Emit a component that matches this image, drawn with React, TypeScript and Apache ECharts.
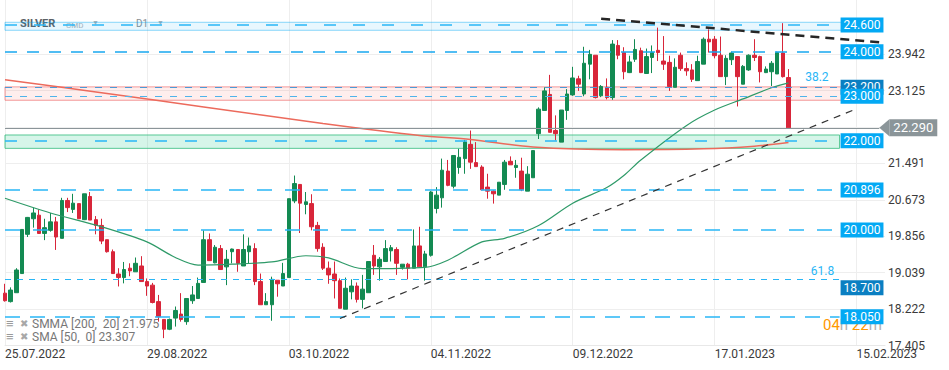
import { useEffect, useRef } from 'react';
import * as echarts from 'echarts';

// ---------- DATA ----------
const tickLabels = ['25.07.2022', '29.08.2022', '03.10.2022', '04.11.2022', '09.12.2022', '17.01.2023', '15.02.2023'];
const tickStep = 25;
const slotCount = 156;

// [open, close, low, high]
const ohlc: number[][] = [
  [18.58, 18.41, 18.39, 18.79], [18.39, 18.65, 18.37, 18.71], [18.59, 19.10, 18.59, 19.14], [19.02, 20.01, 19.02, 20.01],
  [19.90, 20.28, 19.84, 20.29], [20.25, 20.38, 20.05, 20.50], [20.33, 19.92, 19.92, 20.46], [19.92, 20.05, 19.77, 20.25],
  [19.99, 20.18, 19.96, 20.38], [20.18, 19.84, 19.55, 20.29], [19.81, 20.66, 19.81, 20.72], [20.66, 20.50, 20.40, 20.72],
  [20.46, 20.60, 20.38, 20.81], [20.59, 20.25, 20.25, 20.59], [20.23, 20.81, 20.22, 20.81], [20.75, 20.22, 20.22, 20.85],
  [20.23, 20.10, 19.90, 20.31], [20.10, 19.75, 19.68, 20.25], [19.78, 19.51, 19.49, 19.78], [19.51, 19.02, 19.01, 19.56],
  [19.01, 18.93, 18.73, 19.14], [18.93, 19.11, 18.80, 19.28], [19.14, 19.08, 18.96, 19.25], [19.06, 19.25, 19.06, 19.38],
  [19.19, 18.84, 18.84, 19.41], [18.84, 18.74, 18.52, 18.91], [18.76, 18.37, 18.35, 18.81], [18.39, 18.05, 17.94, 18.54],
  [17.99, 17.77, 17.57, 17.99], [17.77, 17.99, 17.75, 18.01], [18.02, 18.19, 17.83, 18.28], [18.11, 17.99, 17.94, 18.58],
  [17.94, 18.46, 17.87, 18.46], [18.41, 18.54, 18.34, 18.74], [18.46, 18.80, 18.46, 18.93], [18.82, 19.78, 18.82, 19.99],
  [19.78, 19.31, 19.31, 19.92], [19.26, 19.61, 19.25, 19.66], [19.58, 19.11, 19.10, 19.66], [19.17, 19.34, 18.76, 19.55],
  [19.51, 19.57, 19.25, 19.58], [19.56, 19.25, 19.06, 19.56], [19.19, 19.56, 19.19, 19.90], [19.51, 19.64, 19.25, 19.83],
  [19.58, 18.84, 18.76, 19.70], [18.84, 18.32, 18.32, 19.02], [18.32, 18.39, 18.32, 18.58], [18.32, 18.89, 17.96, 18.95],
  [18.87, 18.79, 18.50, 18.87], [18.74, 19.02, 18.74, 19.26], [18.93, 20.70, 18.93, 20.70], [20.65, 21.04, 20.60, 21.22],
  [21.02, 20.60, 19.93, 21.02], [20.57, 20.63, 20.35, 20.85], [20.59, 20.07, 19.99, 20.80], [20.10, 19.58, 19.51, 20.18],
  [19.61, 19.14, 19.10, 19.70], [19.14, 18.99, 18.79, 19.29], [19.01, 18.86, 18.46, 19.29], [18.86, 18.24, 18.24, 18.91],
  [18.22, 18.69, 18.22, 18.93], [18.61, 18.74, 18.44, 18.89], [18.74, 18.44, 18.37, 18.82], [18.44, 18.67, 18.24, 18.99],
  [18.59, 19.29, 18.59, 19.29], [19.43, 19.19, 18.99, 19.66], [19.17, 19.34, 18.86, 19.39], [19.29, 19.58, 19.29, 19.77],
  [19.53, 19.60, 19.29, 19.66], [19.56, 19.25, 18.99, 19.61], [19.16, 19.23, 19.11, 19.23], [19.23, 19.14, 18.89, 19.26],
  [19.14, 19.64, 19.14, 20.01], [19.64, 19.17, 19.17, 20.07], [19.17, 19.46, 18.86, 19.53], [19.43, 20.85, 19.40, 20.87],
  [20.48, 20.78, 20.37, 20.96], [20.72, 21.34, 20.50, 21.60], [21.32, 21.00, 20.98, 21.57], [20.98, 21.67, 20.93, 21.67],
  [21.40, 21.63, 21.26, 21.82], [21.60, 21.97, 21.26, 22.02], [21.92, 21.52, 21.37, 22.23], [21.51, 21.42, 21.42, 21.97],
  [21.41, 20.90, 20.89, 21.45], [20.96, 20.87, 20.70, 21.26], [20.87, 20.81, 20.59, 20.89], [20.78, 21.07, 20.78, 21.07],
  [21.02, 21.52, 20.90, 21.57], [21.54, 21.46, 21.46, 21.65], [21.40, 21.45, 21.17, 21.57], [21.32, 20.90, 20.87, 21.62],
  [20.87, 21.25, 20.87, 21.43], [21.17, 21.78, 21.17, 21.78], [22.16, 22.71, 22.04, 22.75], [22.68, 23.12, 22.68, 23.20],
  [23.04, 22.19, 22.19, 23.48], [22.23, 22.16, 22.01, 22.57], [21.97, 22.69, 21.97, 22.69], [22.68, 23.05, 22.47, 23.16],
  [23.03, 23.41, 23.01, 23.66], [23.39, 23.27, 23.12, 23.46], [23.05, 23.74, 23.00, 24.11], [23.72, 23.94, 23.38, 24.04],
  [23.92, 22.97, 22.95, 23.92], [23.01, 23.22, 22.98, 23.25], [23.20, 22.97, 22.93, 23.40], [22.97, 24.17, 22.92, 24.26],
  [24.14, 23.92, 23.83, 24.26], [23.98, 23.55, 23.38, 24.10], [23.53, 23.77, 23.52, 23.91], [23.83, 24.05, 23.77, 24.28],
  [24.02, 23.53, 23.52, 24.09], [23.51, 23.89, 23.50, 24.07], [23.87, 23.98, 23.52, 24.14], [24.03, 23.98, 23.79, 24.54],
  [23.79, 23.72, 23.59, 24.35], [23.76, 23.22, 23.12, 23.91], [23.20, 23.65, 23.20, 23.85], [23.92, 23.62, 23.57, 23.98],
  [23.62, 23.57, 23.46, 23.76], [23.59, 23.38, 23.32, 23.72], [23.35, 23.78, 23.35, 23.91], [23.72, 24.28, 23.72, 24.32],
  [24.28, 24.22, 23.98, 24.50], [24.28, 23.91, 23.85, 24.35], [23.92, 23.44, 23.44, 24.34], [23.44, 23.85, 23.25, 23.92],
  [23.82, 23.97, 23.70, 24.00], [23.89, 23.44, 22.77, 23.89], [23.27, 23.67, 23.27, 23.70], [23.59, 23.92, 23.57, 23.94],
  [23.92, 23.87, 23.79, 24.28], [23.89, 23.55, 23.31, 23.91], [23.53, 23.61, 23.52, 23.67], [23.55, 23.74, 23.23, 23.79],
  [23.50, 23.98, 23.50, 24.00], [23.97, 23.44, 23.42, 24.64], [23.42, 22.29, 22.27, 23.61],
];

// indicator lines: [bar index, value]
const smmaPoints: number[][] = [
  [0, 23.37], [17, 23.08], [35, 22.76], [56, 22.39], [73, 22.12], [82, 22.03], [93, 21.86],
  [109, 21.80], [123, 21.82], [132, 21.88], [138, 21.96],
];
const smaPoints: number[][] = [
  [0, 20.71], [8, 20.38], [17, 20.07], [25, 19.73], [30, 19.38], [34, 19.21], [40, 19.23], [47, 19.28],
  [53, 19.42], [57, 19.37], [63, 19.13], [74, 19.16], [78, 19.32], [84, 19.73], [88, 19.81], [94, 20.10],
  [100, 20.60], [106, 20.95], [109, 21.22], [112, 21.57], [120, 22.34], [125, 22.69], [130, 22.94], [135, 23.19], [138, 23.30],
];

const yTicks = [17.405, 18.222, 19.039, 19.856, 20.673, 21.491, 22.308, 23.125, 23.942];
const yLabelTicks = [17.405, 18.222, 19.039, 19.856, 20.673, 21.491, 23.125, 23.942];
const yMin = 17.405;
const yMax = 25.16;

const lastPrice = 22.29;
const lastPriceText = '22.290';
const priceLineEnd = 154;

const levelValues = [24.6, 24.0, 23.2, 23.0, 22.0, 20.896, 20.0, 18.9, 18.7, 18.05];
const levelTexts = ['24.600', '24.000', '23.200', '23.000', '22.000', '20.896', '20.000', '', '18.700', '18.050'];
const levelEnd = 147;

const bandRanges = [[24.48, 24.66], [22.91, 23.21], [21.83, 22.13]];
const bandEnds = [149, 148, 147];

const downTrend = [[105, 24.74], [154, 24.21]];
const upTrend = [[59, 18.01], [150, 22.72]];

const fibTexts = ['38.2', '61.8'];
const fibAnchors = [[143, 23.43], [144, 19.08]];

const legendNames = ['SMMA', 'SMA'];
const legendParams = ['[200,  20]', '[50,  0]'];
const legendValues = ['21.975', '23.307'];
const countdown = ['04', '22'];

// ---------- STYLES ----------
const FONT = 'Roboto, "Noto Sans", sans-serif';
const UP = '#138a52';
const DOWN = '#d8263a';
const BOX = '#03a9f4';
const BOX_DARK = '#0a7fc2';
const levelStyles = [
  { color: '#29b6f6', dash: [12, 17], width: 1.5, box: BOX },
  { color: '#18a8ef', dash: [12, 10], width: 1.5, box: BOX },
  { color: '#4d9ad6', dash: [7, 8], width: 1.2, box: BOX_DARK },
  { color: '#4fb3ea', dash: [7, 8], width: 1.2, box: BOX },
  { color: '#29b6f6', dash: [12, 18], width: 1.5, box: BOX },
  { color: '#29b6f6', dash: [15, 13], width: 1.5, box: BOX },
  { color: '#29b6f6', dash: [15, 13], width: 1.5, box: BOX },
  { color: '#29b6f6', dash: [6, 6], width: 1.2, box: BOX },
  { color: 'rgba(0,0,0,0)', dash: [6, 6], width: 1, box: BOX_DARK },
  { color: '#29b6f6', dash: [15, 10], width: 1.5, box: BOX },
];
const bandStyles = [
  { fill: 'rgba(3,169,244,0.09)', border: 'rgba(3,169,244,0.45)' },
  { fill: 'rgba(244,67,54,0.09)', border: 'rgba(240,120,120,0.75)' },
  { fill: 'rgba(0,190,120,0.16)', border: 'rgba(60,190,130,0.85)' },
];

export default function App() {
  const ref = useRef<HTMLDivElement>(null);

  useEffect(() => {
    if (!ref.current) return;
    const chart = echarts.init(ref.current, undefined, { renderer: 'svg' });
    const categories = Array.from({ length: slotCount }, (_, i) => String(i));

    const levelLines = levelValues.map((v, k) => {
      const st = levelStyles[k];
      const text = levelTexts[k];
      return [
        {
          xAxis: 0,
          yAxis: v,
          lineStyle: { color: st.color, width: st.width, type: st.dash },
          label: text
            ? {
                show: true, position: 'end', formatter: text, distance: 1,
                backgroundColor: st.box, color: '#fff', fontSize: 12, fontFamily: FONT,
                padding: [2, 3, 1, 3], lineHeight: 12,
              }
            : { show: false },
        },
        { xAxis: levelEnd, yAxis: v },
      ];
    });

    const option: any = {
      animation: false,
      backgroundColor: '#fff',
      grid: { left: 5, right: 64, top: 0, bottom: 24.5, containLabel: false },
      xAxis: {
        type: 'category',
        data: categories,
        boundaryGap: false,
        axisLine: { show: true, lineStyle: { color: '#e8e8e8' } },
        axisTick: { show: false },
        axisLabel: {
          interval: (i: number) => i % tickStep === 0,
          formatter: (_v: string, i: number) => tickLabels[i / tickStep] ?? '',
          align: 'left',
          color: '#3a3a3a',
          fontSize: 12,
          fontFamily: FONT,
          margin: 2,
        },
        splitLine: { show: true, interval: (i: number) => i % tickStep === 0, lineStyle: { color: '#eeeeee' } },
      },
      yAxis: {
        type: 'value',
        position: 'right',
        min: yMin,
        max: yMax,
        scale: true,
        axisLine: { show: false },
        axisTick: { show: false, customValues: yTicks },
        axisLabel: {
          customValues: yLabelTicks,
          formatter: (v: number) => v.toFixed(3),
          color: '#3a3a3a',
          fontSize: 12,
          fontFamily: FONT,
          margin: 3,
        },
        splitLine: { show: true, lineStyle: { color: '#eeeeee' } },
      },
      series: [
        {
          type: 'candlestick',
          name: 'SILVER',
          data: ohlc,
          barWidth: 4,
          clip: false,
          itemStyle: { color: UP, color0: DOWN, borderColor: UP, borderColor0: DOWN, borderWidth: 1 },
          markArea: {
            silent: true,
            data: bandRanges.map((r, k) => [
              { xAxis: 0, yAxis: r[0], itemStyle: { color: bandStyles[k].fill, borderColor: bandStyles[k].border, borderWidth: 1 } },
              { xAxis: bandEnds[k], yAxis: r[1] },
            ]),
          },
          markLine: {
            silent: true,
            symbol: ['none', 'none'],
            animation: false,
            data: [
              ...levelLines,
              [
                { coord: downTrend[0], lineStyle: { color: '#262626', width: 2.5, type: [9, 6] }, label: { show: false } },
                { coord: downTrend[1] },
              ],
              [
                { coord: upTrend[0], lineStyle: { color: '#333', width: 1.2, type: [7, 6] }, label: { show: false } },
                { coord: upTrend[1] },
              ],
              [
                {
                  xAxis: 0, yAxis: lastPrice,
                  lineStyle: { color: '#8b9599', width: 1.2, type: 'solid' },
                  label: {
                    show: true, position: 'end', distance: 10, formatter: lastPriceText,
                    backgroundColor: '#8b9599', color: '#fff', fontSize: 13, fontFamily: FONT,
                    padding: [2, 4, 2, 4], lineHeight: 13,
                  },
                },
                { xAxis: priceLineEnd, yAxis: lastPrice },
              ],
            ],
          },
          markPoint: {
            silent: true,
            symbol: 'rect',
            symbolSize: 1,
            itemStyle: { color: 'rgba(0,0,0,0)' },
            data: fibTexts.map((t, k) => ({
              coord: fibAnchors[k],
              label: { show: true, position: 'inside', formatter: t, color: '#29b6f6', fontSize: 12, fontFamily: FONT },
            })),
          },
        },
        {
          type: 'line',
          name: 'SMMA',
          data: smmaPoints,
          smooth: 0.3,
          showSymbol: false,
          symbol: 'none',
          lineStyle: { color: '#ec6a5c', width: 1.5 },
          z: 3,
        },
        {
          type: 'line',
          name: 'SMA',
          data: smaPoints,
          smooth: 0.3,
          showSymbol: false,
          symbol: 'none',
          lineStyle: { color: '#2e9a68', width: 1.2 },
          z: 3,
        },
      ],
    };
    chart.setOption(option);

    const py = chart.convertToPixel({ yAxisIndex: 0 }, lastPrice) as number;
    const px = chart.convertToPixel({ xAxisIndex: 0 }, priceLineEnd) as number;

    const graphic: any[] = [
      { type: 'text', left: 20, top: 18, style: { text: 'SILVER', fill: '#5b6166', font: `bold 11px ${FONT}` } },
      { type: 'text', left: 66, top: 21, style: { text: 'CMD', fill: '#b0b4b8', font: `8px ${FONT}` } },
      { type: 'text', left: 92, top: 19, style: { text: '▼', fill: '#b0b4b8', font: `7px ${FONT}` } },
      { type: 'text', left: 136, top: 18, style: { text: 'D1', fill: '#8a8f94', font: `10px ${FONT}` } },
      { type: 'text', left: 157, top: 19, style: { text: '▼', fill: '#b0b4b8', font: `7px ${FONT}` } },
      ...legendNames.flatMap((n, k) => [
        { type: 'text', left: 6, top: 317 + k * 13, style: { text: '≡', fill: '#9a9a9a', font: `bold 13px ${FONT}` } },
        { type: 'text', left: 20, top: 318 + k * 13, style: { text: '✖', fill: '#a8a8a8', font: `10px ${FONT}` } },
        {
          type: 'text', left: 32, top: 318 + k * 13,
          style: { text: `${n} ${legendParams[k]} ${legendValues[k]}`, fill: '#777', font: `12px ${FONT}` },
        },
      ]),
      {
        type: 'text', left: 823, top: 317, z: 0,
        style: {
          text: `{o|${countdown[0]}}{g|h} {o|${countdown[1]}}{g|m}`,
          font: `15px ${FONT}`,
          rich: {
            o: { fill: '#ff9800', font: `15px ${FONT}` },
            g: { fill: '#b0b0b0', font: `15px ${FONT}` },
          },
        },
      },
      {
        type: 'polygon', z: 100,
        shape: { points: [[px, py], [px + 10, py - 8.5], [px + 10, py + 8.5]] },
        style: { fill: '#8b9599' },
      },
    ];
    chart.setOption({ graphic });

    return () => chart.dispose();
  }, []);

  return (
    <div
      ref={ref}
      style={{ position: 'fixed', left: 0, top: 0, width: 949, height: 370, background: '#fff' }}
    />
  );
}
